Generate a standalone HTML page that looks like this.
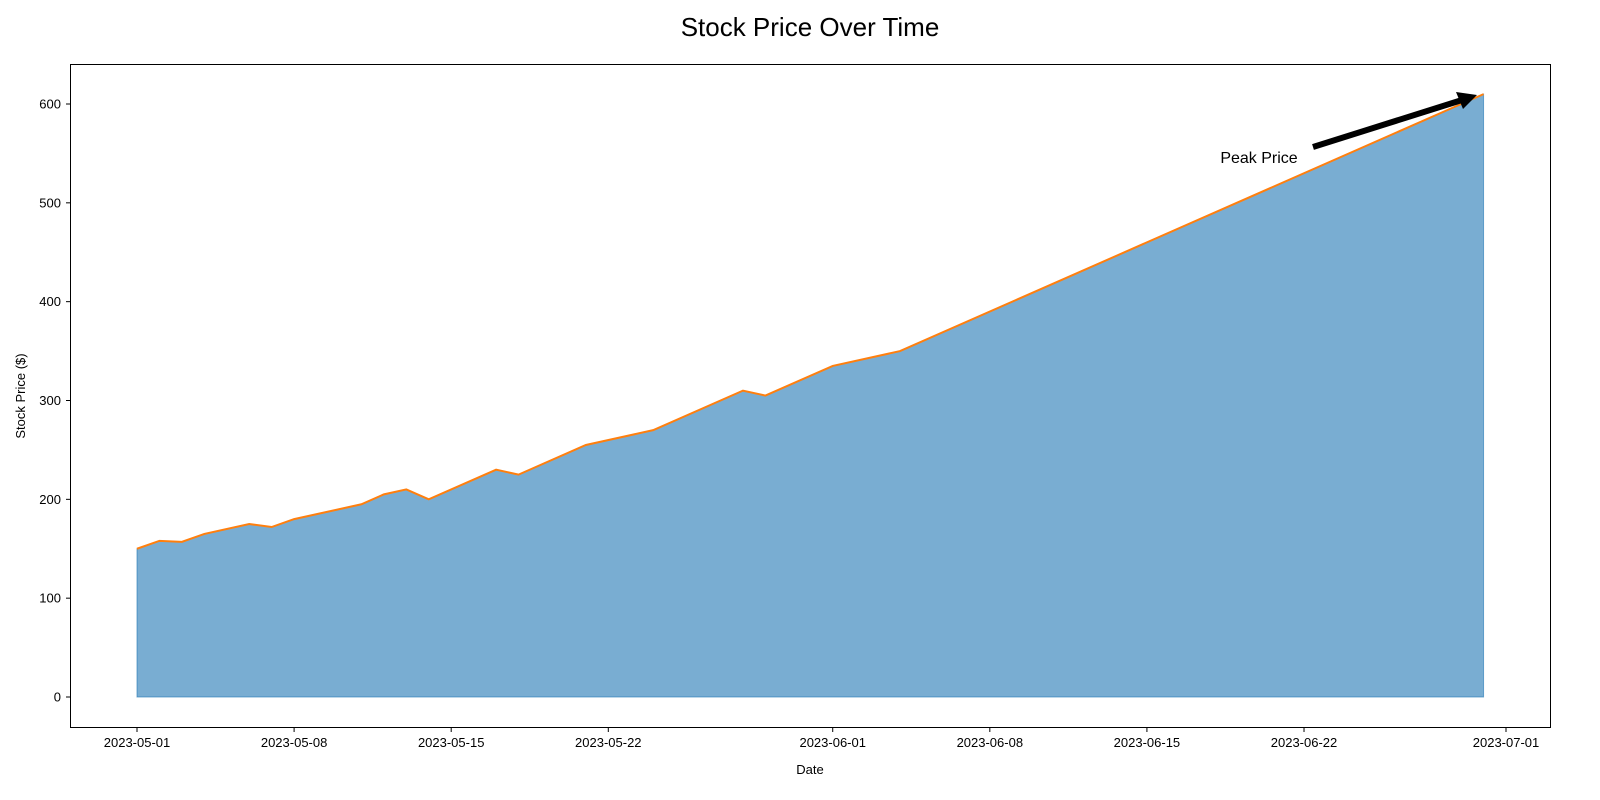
<!DOCTYPE html>
<html><head><meta charset="utf-8"><style>
body{margin:0;background:#fff;}
svg{display:block;font-family:"Liberation Sans","DejaVu Sans",sans-serif;}
</style></head><body>
<svg id="chart" width="1600" height="800">
<text x="810" y="36" font-size="26" text-anchor="middle">Stock Price Over Time</text>
<g id="plot"></g>
<rect x="70.5" y="64.5" width="1480" height="663" fill="none" stroke="#000" stroke-width="1"/>
<text x="810" y="774" font-size="13" text-anchor="middle">Date</text>
<text transform="translate(25,396) rotate(-90)" font-size="13" text-anchor="middle">Stock Price ($)</text>
</svg>
<script>
const dayOffsets=[0,1,2,3,5,6,7,10,11,12,13,16,17,20,23,27,28,31,34,60];
const prices=[150,158,157,165,175,172,180,195,205,210,200,230,225,255,270,310,305,335,350,610];
const yTicks=[0,100,200,300,400,500,600];
const xTickDays=[0,7,14,21,31,38,45,52,61];
const xTickLabels=["2023-05-01","2023-05-08","2023-05-15","2023-05-22","2023-06-01","2023-06-08","2023-06-15","2023-06-22","2023-07-01"];
const NS="http://www.w3.org/2000/svg";
const X=d=>137+d*(1369/61);
const Y=v=>697-v*(593/600);
const g=document.getElementById('plot');
function mk(t,a){const e=document.createElementNS(NS,t);for(const k in a)e.setAttribute(k,a[k]);return e;}
let pts=dayOffsets.map((d,i)=>X(d)+','+Y(prices[i])).join(' ');
const area=mk('polygon',{points:X(dayOffsets[0])+','+Y(0)+' '+pts+' '+X(dayOffsets[dayOffsets.length-1])+','+Y(0),fill:'#1f77b4','fill-opacity':'0.6',stroke:'#1f77b4','stroke-opacity':'0.6'});


g.appendChild(area);
const line=mk('polyline',{points:pts,fill:'none',stroke:'#ff7f0e','stroke-width':'2'});


g.appendChild(line);
yTicks.forEach(v=>{
 const t=mk('line',{x1:66,x2:70,y1:Y(v),y2:Y(v),stroke:'#000'});
 
 
 g.appendChild(t);
 const l=mk('text',{x:61,y:Y(v)+4.5,'font-size':13,'text-anchor':'end'});
 l.textContent=v;
 
 
 g.appendChild(l);
});
xTickDays.forEach((d,i)=>{
 const t=mk('line',{x1:X(d),x2:X(d),y1:728,y2:732,stroke:'#000'});
 
 
 g.appendChild(t);
 const l=mk('text',{x:X(d),y:747,'font-size':13,'text-anchor':'middle'});
 l.textContent=xTickLabels[i];
 
 
 g.appendChild(l);
});
const ann=mk('text',{x:1259,y:163,'font-size':16,'text-anchor':'middle'});
ann.textContent='Peak Price';


g.appendChild(ann);
const arr=mk('line',{x1:1313,y1:147,x2:1462,y2:100,stroke:'#000','stroke-width':6});


g.appendChild(arr);
const head=mk('polygon',{points:'1477,95 1456,92 1463,109',fill:'#000'});


g.appendChild(head);
</script>
</body></html>
